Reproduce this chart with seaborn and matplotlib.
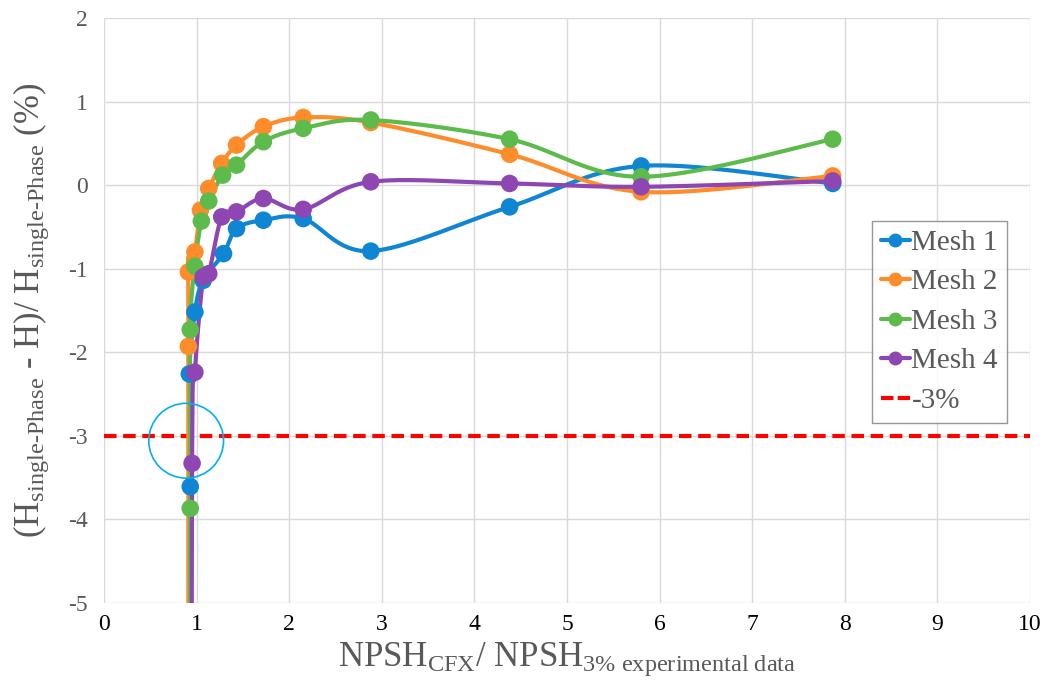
import numpy as np
import matplotlib
matplotlib.use("Agg")
import matplotlib.pyplot as plt
from matplotlib.lines import Line2D
import seaborn as sns

# (x: NPSH ratio, y: head drop in %)
# the first point of each series sits below the visible range (line runs off the bottom)
mesh1_x = [0.91, 0.93, 0.92, 0.98, 1.07, 1.29, 1.43, 1.72, 2.15, 2.88, 4.38, 5.80, 7.87]
mesh1_y = [-12.0, -3.61, -2.26, -1.52, -1.14, -0.82, -0.52, -0.42, -0.40, -0.79, -0.26, 0.23, 0.02]

mesh2_x = [0.91, 0.91, 0.91, 0.98, 1.04, 1.13, 1.27, 1.43, 1.72, 2.15, 2.88, 4.38, 5.80, 7.87]
mesh2_y = [-12.0, -1.93, -1.04, -0.80, -0.30, -0.04, 0.26, 0.48, 0.70, 0.81, 0.75, 0.37, -0.08, 0.11]

mesh3_x = [0.92, 0.93, 0.93, 0.98, 1.05, 1.13, 1.28, 1.43, 1.72, 2.15, 2.88, 4.38, 5.80, 7.87]
mesh3_y = [-12.0, -3.87, -1.73, -0.97, -0.43, -0.19, 0.12, 0.24, 0.52, 0.68, 0.78, 0.55, 0.10, 0.55]

mesh4_x = [0.94, 0.95, 0.98, 1.07, 1.13, 1.27, 1.43, 1.72, 2.15, 2.88, 4.38, 5.80, 7.87]
mesh4_y = [-12.0, -3.33, -2.24, -1.10, -1.06, -0.38, -0.32, -0.16, -0.29, 0.04, 0.02, -0.02, 0.05]

series_names = ["Mesh 1", "Mesh 2", "Mesh 3", "Mesh 4"]
series_x = [mesh1_x, mesh2_x, mesh3_x, mesh4_x]
series_y = [mesh1_y, mesh2_y, mesh3_y, mesh4_y]
colors = ["#0F86D3", "#FF8C2A", "#5DBB4C", "#8E46B2"]

limit_value = -3
limit_label = "-3%"


def smooth(xs, ys, n=40):
    """Excel-style smoothed line (Bezier through the points)."""
    p = np.column_stack([xs, ys]).astype(float)
    out = []
    for i in range(len(p) - 1):
        p0 = p[i - 1] if i > 0 else p[i]
        p1, p2 = p[i], p[i + 1]
        p3 = p[i + 2] if i + 2 < len(p) else p[i + 1]
        c1 = p1 + (p2 - p0) / 6
        c2 = p2 - (p3 - p1) / 6
        t = np.linspace(0, 1, n)[:, None]
        seg = ((1 - t) ** 3) * p1 + 3 * ((1 - t) ** 2) * t * c1 + 3 * (1 - t) * t ** 2 * c2 + t ** 3 * p2
        out.append(seg)
    seg = np.vstack(out)
    return seg[:, 0], seg[:, 1]


sns.set_style("white")
plt.rcParams["font.family"] = ["Liberation Serif", "DejaVu Serif"]
plt.rcParams["mathtext.fontset"] = "custom"
plt.rcParams["mathtext.rm"] = "Liberation Serif"
plt.rcParams["mathtext.it"] = "Liberation Serif:italic"
plt.rcParams["axes.unicode_minus"] = False

fig = plt.figure(figsize=(10.52, 6.96), dpi=100)
ax = fig.add_axes([0.099, 0.134, 0.880, 0.840])

ax.axhline(limit_value, color="#FF0000", lw=3, ls=(0, (3, 1.6)), zorder=2)

for name, xs, ys, c in zip(series_names, series_x, series_y, colors):
    sx, sy = smooth(xs, ys)
    sns.lineplot(x=sx, y=sy, sort=False, estimator=None, color=c, lw=3, ax=ax, zorder=3)
    sns.scatterplot(x=xs, y=ys, color=c, s=160, edgecolor="none", ax=ax, zorder=4)

# highlight circle around the -3% crossing
ax.scatter([0.886], [-3.06], s=2900, facecolor="none", edgecolor="#00B0F0", lw=1.2, zorder=5)

ax.set_xlim(0, 10)
ax.set_ylim(-5, 2)
ax.set_xticks(range(0, 11))
ax.set_yticks(range(-5, 3))
ax.grid(True, color="#D9D9D9", lw=1)
for s in ax.spines.values():
    s.set_visible(False)
ax.tick_params(axis="x", labelsize=17, colors="#000000", length=0, pad=8)
ax.tick_params(axis="y", labelsize=17, labelcolor="#595959", length=0, pad=12)

ax.set_xlabel(r"NPSH$_{\mathrm{CFX}}$/ NPSH$_{\mathrm{3\%\ experimental\ data}}$",
              fontsize=25, color="#595959", labelpad=4)
ax.set_ylabel(r"(H$_{\mathrm{single\text{-}Phase}}$ - H)/ H$_{\mathrm{single\text{-}Phase}}$ (%)",
              fontsize=25, color="#595959", labelpad=12)

handles = [Line2D([], [], color=c, lw=3, marker="o", markersize=9) for c in colors]
handles.append(Line2D([], [], color="#FF0000", lw=3, ls=(0, (3, 1))))
labels = series_names + [limit_label]
leg = ax.legend(handles, labels, loc="upper left", bbox_to_anchor=(0.829, 0.683),
                bbox_transform=fig.transFigure, fontsize=21, frameon=True, fancybox=False,
                edgecolor="#7F7F7F", handlelength=1.0, handletextpad=0.05, borderpad=0.3,
                labelspacing=0.45, borderaxespad=0)
for t in leg.get_texts():
    t.set_color("#595959")
leg.get_frame().set_linewidth(1)

fig.savefig("out.png", dpi=100)
